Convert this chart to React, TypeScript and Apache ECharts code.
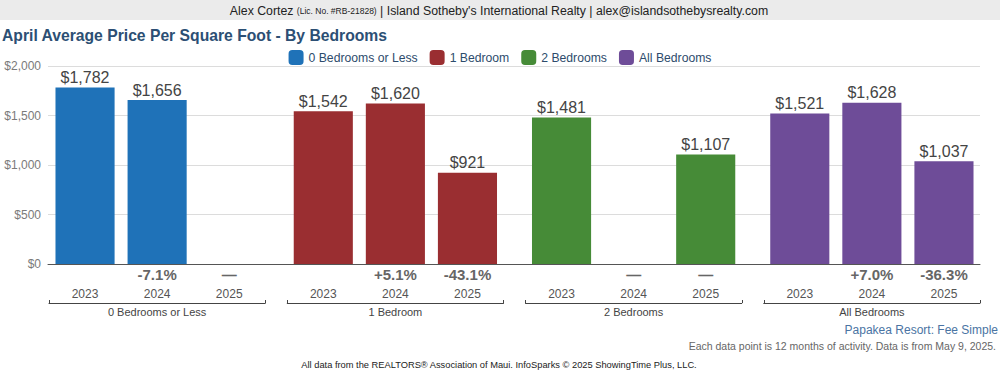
import React, { useEffect, useRef } from "react";
import * as echarts from "echarts";

const years = ["2023", "2024", "2025"];
const groups = ["0 Bedrooms or Less", "1 Bedroom", "2 Bedrooms", "All Bedrooms"];
const colors = ["#1f72b8", "#9a2e31", "#468b37", "#6e4c98"];
const bed0: (number | null)[] = [1782, 1656, null];
const bed1: (number | null)[] = [1542, 1620, 921];
const bed2: (number | null)[] = [1481, null, 1107];
const bedAll: (number | null)[] = [1521, 1628, 1037];
const groupValues = [bed0, bed1, bed2, bedAll];
const yMin = 0;
const yMax = 2000;
const yInterval = 500;

const FONT = "'Liberation Sans', Arial, Helvetica, sans-serif";

const money = (v: number) => "$" + Math.round(v).toLocaleString("en-US");

function pctLabels(vals: (number | null)[]): string[] {
  return vals.map((v, i) => {
    if (i === 0) return "";
    const prev = vals[i - 1];
    if (v == null || prev == null) return "\u2014";
    const p = ((v - prev) / prev) * 100;
    return (p >= 0 ? "+" : "") + p.toFixed(1) + "%";
  });
}

export default function App() {
  const ref = useRef<HTMLDivElement>(null);

  useEffect(() => {
    if (!ref.current) return;
    const chart = echarts.init(ref.current, undefined, { renderer: "svg" });

    const plotLeft = 48;
    const plotRight = 980;
    const gridTop = 66;
    const gridBottom = 375 - 264;
    const bandGap = 22;
    const groupW = (plotRight - plotLeft - 1 - bandGap * 3) / 4;

    const grids: any[] = [
      { left: plotLeft, width: plotRight - plotLeft, top: gridTop, bottom: gridBottom },
    ];
    const xAxes: any[] = [
      {
        gridIndex: 0,
        type: "category",
        data: [""],
        position: "bottom",
        offset: 18,
        axisLine: { show: true, lineStyle: { color: "#555", width: 1 } },
        axisTick: { show: false },
        axisLabel: { show: false },
        splitLine: { show: false },
      },
    ];
    const yAxes: any[] = [
      {
        gridIndex: 0,
        type: "value",
        min: yMin,
        max: yMax,
        interval: yInterval,
        axisLine: { show: false },
        axisTick: { show: false },
        splitLine: { show: true, lineStyle: { color: "#dcdcdc", width: 1 } },
        axisLabel: {
          formatter: (v: number) => money(v),
          color: "#7a7a7a",
          fontSize: 12,
          fontFamily: FONT,
          margin: 7,
        },
      },
    ];
    const series: any[] = [];

    groups.forEach((g, i) => {
      const gi = i + 1;
      grids.push({
        left: plotLeft + 1 + i * (groupW + bandGap),
        width: groupW,
        top: gridTop,
        bottom: gridBottom,
      });
      const base = xAxes.length;
      xAxes.push({
        gridIndex: gi,
        type: "category",
        data: pctLabels(groupValues[i]),
        position: "bottom",
        offset: 0,
        axisLine: { show: false },
        axisTick: { show: false },
        axisLabel: {
          color: "#666",
          fontSize: 15,
          fontWeight: "bold",
          fontFamily: FONT,
          margin: 3,
          interval: 0,
        },
      });
      xAxes.push({
        gridIndex: gi,
        type: "category",
        data: years,
        position: "bottom",
        offset: 18,
        axisLine: { show: false },
        axisTick: { show: false },
        axisLabel: {
          color: "#555",
          fontSize: 12,
          fontFamily: FONT,
          margin: 6,
          interval: 0,
        },
      });
      xAxes.push({
        gridIndex: gi,
        type: "category",
        data: [g],
        position: "bottom",
        offset: 39,
        axisLine: { show: true, lineStyle: { color: "#444", width: 1 } },
        axisTick: { show: true, inside: true, length: 3, lineStyle: { color: "#444" } },
        axisLabel: {
          color: "#444",
          fontSize: 11,
          fontFamily: FONT,
          margin: 3,
        },
      });
      yAxes.push({
        gridIndex: gi,
        type: "value",
        min: yMin,
        max: yMax,
        interval: yInterval,
        show: false,
        splitLine: { show: false },
      });
      series.push({
        name: g,
        type: "bar",
        xAxisIndex: base + 1,
        yAxisIndex: gi,
        data: groupValues[i],
        barWidth: "82%",
        itemStyle: { color: colors[i] },
        label: {
          show: true,
          position: "top",
          distance: 2,
          formatter: (p: any) => money(p.value),
          color: "#444",
          fontSize: 16,
          fontFamily: FONT,
        },
      });
    });

    chart.setOption({
      animation: false,
      backgroundColor: "#fff",
      textStyle: { fontFamily: FONT },
      grid: grids,
      xAxis: xAxes,
      yAxis: yAxes,
      series,
      legend: {
        data: groups,
        top: 45,
        left: "center",
        icon: "roundRect",
        itemWidth: 15,
        itemHeight: 15,
        itemGap: 12,
        selectedMode: false,
        textStyle: { color: "#2d4b6c", fontSize: 12.2, fontFamily: FONT },
      },
      graphic: [
        {
          type: "rect",
          left: 0,
          top: 0,
          shape: { width: 1000, height: 20 },
          style: { fill: "#ebebeb" },
          silent: true,
        },
        {
          type: "text",
          x: 499,
          y: 11,
          style: {
            text: "{m|Alex Cortez }{s|(Lic. No. #RB-21828)}{m| | Island Sotheby's International Realty | alex@islandsothebysrealty.com}",
            align: "center",
            verticalAlign: "middle",
            rich: {
              m: { fontSize: 12.3, fill: "#222", fontFamily: FONT },
              s: { fontSize: 8.5, fill: "#222", fontFamily: FONT },
            },
          },
        },
        {
          type: "text",
          x: 2,
          y: 35,
          style: {
            text: "April Average Price Per Square Foot - By Bedrooms",
            fontSize: 15.7,
            fontWeight: "bold",
            fill: "#2c4f74",
            fontFamily: FONT,
            verticalAlign: "middle",
            align: "left",
          },
        },
        {
          type: "text",
          x: 998,
          y: 330,
          style: {
            text: "Papakea Resort: Fee Simple",
            fontSize: 12,
            fill: "#4a74a3",
            fontFamily: FONT,
            align: "right",
            verticalAlign: "middle",
          },
        },
        {
          type: "text",
          x: 996,
          y: 346,
          style: {
            text: "Each data point is 12 months of activity. Data is from May 9, 2025.",
            fontSize: 10.5,
            fill: "#666",
            fontFamily: FONT,
            align: "right",
            verticalAlign: "middle",
          },
        },
        {
          type: "text",
          x: 499,
          y: 365,
          style: {
            text: "All data from the REALTORS\u00ae Association of Maui. InfoSparks \u00a9 2025 ShowingTime Plus, LLC.",
            fontSize: 9.3,
            fill: "#222",
            fontFamily: FONT,
            align: "center",
            verticalAlign: "middle",
          },
        },
      ],
    });

    return () => chart.dispose();
  }, []);

  return (
    <div
      ref={ref}
      style={{ position: "fixed", left: 0, top: 0, width: 1000, height: 375 }}
    />
  );
}
